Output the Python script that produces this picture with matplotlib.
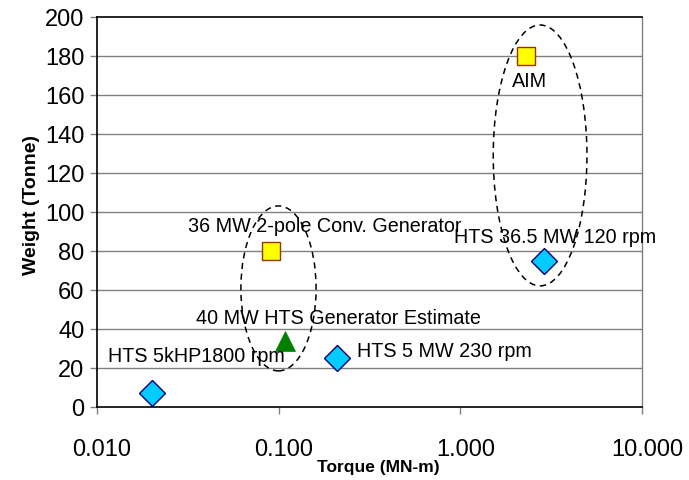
import matplotlib
matplotlib.use("Agg")
import matplotlib.pyplot as plt
import matplotlib.transforms as mtransforms
from matplotlib.patches import Ellipse
from matplotlib.ticker import FixedLocator, FixedFormatter

plt.rcParams["font.family"] = ["Liberation Sans", "DejaVu Sans"]

# torque (MN-m) vs weight (tonne) per machine
hts_names = ["HTS 5kHP1800 rpm", "HTS 5 MW 230 rpm", "HTS 36.5 MW 120 rpm"]
hts_torque = [0.020, 0.21, 2.9]
hts_weight = [7, 25, 75]

conv_names = ["AIM", "36 MW 2-pole Conv. Generator"]
conv_torque = [2.3, 0.091]
conv_weight = [180, 80]

est_names = ["40 MW HTS Generator Estimate"]
est_torque = [0.108]
est_weight = [34]

x_ticks = [0.01, 0.1, 1, 10]
x_tick_labels = ["0.010", "0.100", "1.000", "10.000"]
y_ticks = list(range(0, 201, 20))

fig = plt.figure(figsize=(6.89, 4.81), dpi=100)
ax = fig.add_axes([0.1408, 0.1518, 0.791, 0.8108])

ax.set_xscale("log")
ax.set_xlim(0.01, 10)
ax.set_ylim(0, 200)

for y in y_ticks[1:-1]:
    ax.axhline(y, color="#808080", lw=1.0, zorder=0)

ax.plot(hts_torque, hts_weight, ls="none", marker="D", ms=13,
        mfc="#00CCFF", mec="#000080", mew=1.0, zorder=3, clip_on=False)
ax.plot(conv_torque, conv_weight, ls="none", marker="s", ms=13.5,
        mfc="#FFFF00", mec="#993300", mew=1.0, zorder=3, clip_on=False)
ax.plot(est_torque, est_weight, ls="none", marker="^", ms=15,
        mfc="#008000", mec="#008000", mew=0.5, zorder=3)

label_kw = dict(textcoords="offset pixels", fontsize=14.2, color="black", zorder=4)
ax.annotate(hts_names[0], (hts_torque[0], hts_weight[0]), xytext=(45, 38),
            ha="center", va="center", **label_kw)
ax.annotate(hts_names[1], (hts_torque[1], hts_weight[1]), xytext=(20, 8),
            ha="left", va="center", **label_kw)
ax.annotate(hts_names[2], (hts_torque[2], hts_weight[2]), xytext=(11, 24),
            ha="center", va="center", **label_kw)
ax.annotate(conv_names[0], (conv_torque[0], conv_weight[0]), xytext=(3, -25),
            ha="center", va="center", **label_kw)
ax.annotate(conv_names[1], (conv_torque[1], conv_weight[1]), xytext=(54, 25),
            ha="center", va="center", **label_kw)
ax.annotate(est_names[0], (est_torque[0], est_weight[0]), xytext=(54, 23),
            ha="center", va="center", **label_kw)

# dashed groupings around the 36-40 MW machines and the large machines
for cx, cy, w, h in [(0.333, 0.304, 0.138, 0.423), (0.813, 0.645, 0.172, 0.669)]:
    ax.add_patch(Ellipse((cx, cy), w, h, transform=ax.transAxes, fill=False,
                         ec="black", ls=(0, (4, 3)), lw=1.1, zorder=2, clip_on=False))

ax.xaxis.set_major_locator(FixedLocator(x_ticks))
ax.xaxis.set_major_formatter(FixedFormatter(x_tick_labels))
ax.xaxis.set_minor_locator(FixedLocator([]))
ax.set_yticks(y_ticks)

ax.tick_params(axis="both", direction="out", length=5, width=1, color="#808080",
               labelsize=17)
ax.tick_params(axis="x", pad=17)
ax.tick_params(axis="y", pad=4)

# nudge the x tick labels slightly right
shift = mtransforms.ScaledTranslation(5 / 100, 0, fig.dpi_scale_trans)
for lbl in ax.get_xticklabels():
    lbl.set_transform(lbl.get_transform() + shift)

for side in ["left", "bottom", "top"]:
    ax.spines[side].set_color("black")
    ax.spines[side].set_linewidth(1.2)
ax.spines["right"].set_color("#808080")
ax.spines["right"].set_linewidth(1.0)

ax.set_xlabel("Torque (MN-m)", fontsize=12.5, fontweight="bold")
ax.xaxis.set_label_coords(0.516, -0.133)
ax.set_ylabel("Weight (Tonne)", fontsize=14, fontweight="bold")
ax.yaxis.set_label_coords(-0.105, 0.52)

fig.savefig("out.png", dpi=100)
